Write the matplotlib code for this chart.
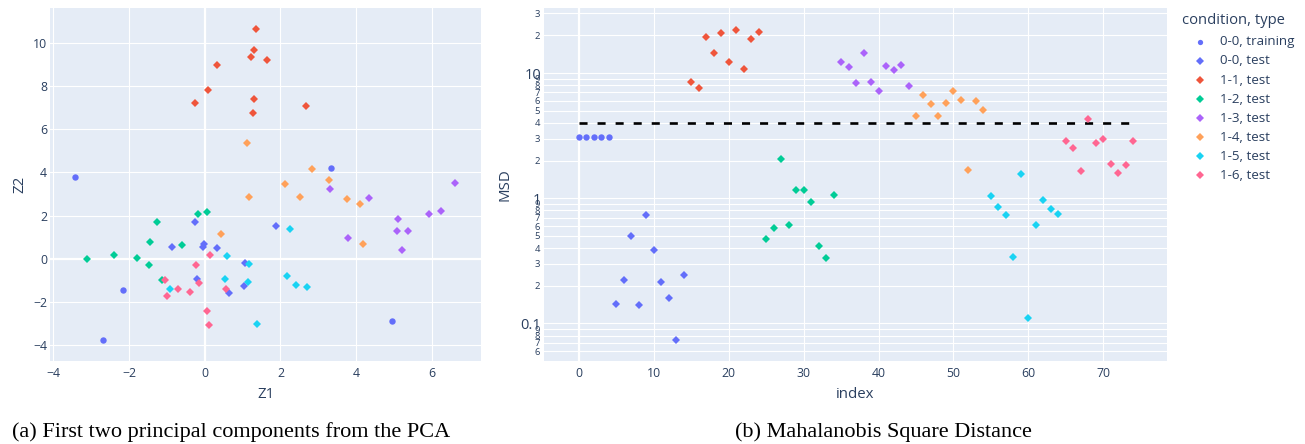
import matplotlib
matplotlib.use("Agg")
import matplotlib.pyplot as plt
from matplotlib.lines import Line2D
from matplotlib.ticker import FixedLocator, FuncFormatter
import numpy as np

# ---------------- data ----------------
groups = ["0-0, training", "0-0, test", "1-1, test", "1-2, test",
          "1-3, test", "1-4, test", "1-5, test", "1-6, test"]
colors = ["#636efa", "#636efa", "#EF553B", "#00cc96",
          "#ab63fa", "#FFA15A", "#19d3f3", "#FF6692"]
markers = ["o", "D", "D", "D", "D", "D", "D", "D"]
legend_title = "condition, type"

# PCA scores (Z1, Z2)
z1_train = [-3.43, -2.69, -2.15, 3.34, 4.95]
z2_train = [3.80, -3.76, -1.45, 4.22, -2.88]
z1_00 = [-0.87, -0.27, -0.04, -0.03, 0.33, -0.21, 1.06, 1.03, 0.63, 1.88]
z2_00 = [0.53, 1.70, 0.53, 0.67, 0.48, -0.93, -0.20, -1.27, -1.61, 1.52]
z1_11 = [1.35, 1.31, 1.22, 1.64, 0.33, 0.08, -0.25, 1.29, 1.27, 2.67]
z2_11 = [10.63, 9.67, 9.34, 9.21, 8.97, 7.84, 7.23, 7.41, 6.75, 7.10]
z1_12 = [-3.12, -2.40, -1.80, -1.46, -1.48, -1.26, -0.61, -0.18, 0.06, -1.13]
z2_12 = [0.00, 0.17, 0.02, 0.78, -0.28, 1.69, 0.65, 2.06, 2.15, -0.99]
z1_13 = [3.30, 4.34, 6.60, 6.24, 5.92, 5.10, 5.07, 5.36, 3.78, 5.20]
z2_13 = [3.25, 2.83, 3.53, 2.21, 2.09, 1.83, 1.27, 1.29, 0.96, 0.42]
z1_14 = [1.11, 2.84, 3.28, 2.12, 1.17, 2.51, 3.75, 4.11, 4.18, 0.43]
z2_14 = [5.36, 4.15, 3.64, 3.47, 2.88, 2.88, 2.77, 2.55, 0.70, 1.13]
z1_15 = [-0.92, 0.58, 0.53, 1.18, 1.15, 2.25, 2.16, 2.41, 2.71, 1.37]
z2_15 = [-1.39, 0.11, -0.96, -0.25, -1.07, 1.36, -0.79, -1.24, -1.33, -3.02]
z1_16 = [-1.06, -0.99, -0.72, -0.40, -0.22, -0.16, 0.13, 0.06, 0.12, 0.55]
z2_16 = [-0.99, -1.73, -1.39, -1.56, -0.31, -1.13, 0.17, -2.40, -3.05, -1.39]

# Mahalanobis square distance per sample index
msd_train = [3.1, 3.1, 3.1, 3.1, 3.1]
msd_00 = [0.144, 0.221, 0.499, 0.141, 0.736, 0.384, 0.213, 0.161, 0.0736, 0.244]
msd_11 = [8.53, 7.54, 19.4, 14.5, 20.8, 12.2, 22.2, 10.8, 18.8, 21.3]
msd_12 = [0.473, 0.582, 2.07, 0.608, 1.17, 1.17, 0.929, 0.416, 0.335, 1.06]
msd_13 = [12.2, 11.1, 8.32, 14.5, 8.47, 7.22, 11.4, 10.6, 11.6, 7.92]
msd_14 = [4.58, 6.63, 5.69, 4.56, 5.75, 7.22, 6.12, 1.69, 6.04, 5.06]
msd_15 = [1.04, 0.857, 0.731, 0.340, 1.56, 0.111, 0.612, 0.964, 0.817, 0.750]
msd_16 = [2.87, 2.50, 1.64, 4.26, 2.77, 2.95, 1.87, 1.58, 1.84, 2.85]
threshold = 4.0

z1_all = [z1_train, z1_00, z1_11, z1_12, z1_13, z1_14, z1_15, z1_16]
z2_all = [z2_train, z2_00, z2_11, z2_12, z2_13, z2_14, z2_15, z2_16]
msd_all = [msd_train, msd_00, msd_11, msd_12, msd_13, msd_14, msd_15, msd_16]

caption_a = "(a) First two principal components from the PCA"
caption_b = "(b) Mahalanobis Square Distance"

# ---------------- style ----------------
BG = "#E5ECF6"
TXT = "#2a3f5f"
FONT = ["Open Sans", "DejaVu Sans"]
plt.rcParams["font.family"] = FONT
plt.rcParams["lines.scale_dashes"] = False

W, H = 1305, 444
fig = plt.figure(figsize=(W / 100, H / 100), dpi=100)

def px_axes(x0, y0, x1, y1):
    return fig.add_axes([x0 / W, 1 - y1 / H, (x1 - x0) / W, (y1 - y0) / H])

def style(ax):
    ax.set_facecolor(BG)
    for s in ax.spines.values():
        s.set_visible(False)
    ax.tick_params(which="both", length=0, colors=TXT, labelsize=8.8, pad=4)
    ax.set_axisbelow(True)

ax1 = px_axes(50, 8, 481, 361)
ax2 = px_axes(544, 8, 1167, 361)
style(ax1)
style(ax2)

MS_D = 4.5   # diamond marker size (pt)
MS_O = 4.6   # circle

# ---- left: PCA ----
for z1, z2, c, m in zip(z1_all, z2_all, colors, markers):
    ax1.plot(z1, z2, linestyle="none", marker=m, color=c,
             markersize=MS_D if m == "D" else MS_O, markeredgewidth=0)
ax1.set_xlim(-4.09, 7.30)
ax1.set_ylim(-4.74, 11.62)
ax1.set_xticks([-4, -2, 0, 2, 4, 6])
ax1.set_xticklabels(["\u22124", "\u22122", "0", "2", "4", "6"])
ax1.set_yticks([-4, -2, 0, 2, 4, 6, 8, 10])
ax1.set_yticklabels(["\u22124", "\u22122", "0", "2", "4", "6", "8", "10"])
ax1.tick_params(axis="y", pad=2)
ax1.grid(True, color="white", linewidth=0.8)
ax1.axvline(0, color="white", linewidth=1.6, zorder=0.5)
ax1.axhline(0, color="white", linewidth=1.6, zorder=0.5)
ax1.set_xlabel("Z1", color=TXT, fontsize=10.8, labelpad=5)
ax1.set_ylabel("Z2", color=TXT, fontsize=10.8, labelpad=4)

# ---- right: MSD ----
start = 0
for vals, c, m in zip(msd_all, colors, markers):
    idx = np.arange(start, start + len(vals))
    start += len(vals)
    ax2.plot(idx, vals, linestyle="none", marker=m, color=c,
             markersize=MS_D if m == "D" else MS_O, markeredgewidth=0, zorder=3)
ax2.plot([0, start - 1], [threshold, threshold], color="black", linewidth=1.9,
         dashes=[5.8, 7.2], dash_capstyle="butt", zorder=2)
ax2.set_yscale("log")
ax2.set_xlim(-4.65, 78.5)
ax2.set_ylim(10 ** -1.30, 10 ** 1.52)
ax2.set_xticks([0, 10, 20, 30, 40, 50, 60, 70])
major = [0.1, 1, 10]
minor = [d * 10.0 ** e for e in (-2, -1, 0, 1) for d in range(2, 10)]
minor = [v for v in minor if 10 ** -1.30 <= v <= 10 ** 1.52]
ax2.yaxis.set_major_locator(FixedLocator(major))
ax2.yaxis.set_minor_locator(FixedLocator(minor))
ax2.yaxis.set_major_formatter(FuncFormatter(
    lambda v, p: {0.1: "0.1", 1.0: "1", 10.0: "10"}.get(round(v, 3), "")))
ax2.yaxis.set_minor_formatter(FuncFormatter(
    lambda v, p: str(int(round(v / 10 ** np.floor(np.log10(v) + 1e-9))))))
ax2.tick_params(axis="y", which="major", labelsize=10.5, pad=2)
ax2.tick_params(axis="y", which="minor", labelsize=6.8, pad=3)
ax2.grid(True, which="both", color="white", linewidth=0.8)
ax2.axvline(0, color="white", linewidth=1.6, zorder=0.5)
ax2.set_xlabel("index", color=TXT, fontsize=10.8, labelpad=5)
ax2.set_ylabel("MSD", color=TXT, fontsize=10.8, labelpad=6)

# ---- legend (plotly-like, placed by pixel) ----
fig.text(1182 / W, 1 - 21 / H, legend_title, ha="left", va="center",
         fontsize=10.6, color=TXT)
for i, (g, c, m) in enumerate(zip(groups, colors, markers)):
    yy = 1 - (42 + 19 * i) / H
    fig.add_artist(Line2D([1200 / W], [yy], transform=fig.transFigure,
                          linestyle="none", marker=m, color=c,
                          markersize=(3.6 if m == "D" else 3.8),
                          markeredgewidth=0))
    fig.text(1220 / W, yy, g, ha="left", va="center", fontsize=9.6, color=TXT)

# ---- captions ----
fig.text(231 / W, 1 - 432 / H, caption_a, ha="center", va="center",
         fontsize=16, family="Liberation Serif", color="black")
fig.text(883 / W, 1 - 432 / H, caption_b, ha="center", va="center",
         fontsize=16, family="Liberation Serif", color="black")

fig.savefig("out.png", dpi=100, facecolor="white")
